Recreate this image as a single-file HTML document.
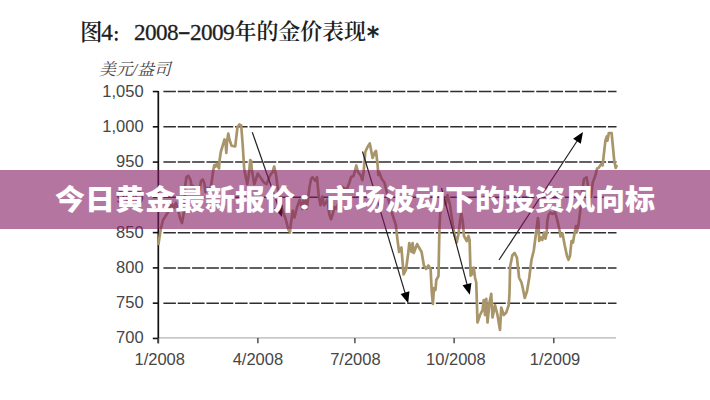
<!DOCTYPE html>
<html><head><meta charset="utf-8"><title>今日黄金最新报价</title>
<style>
html,body{margin:0;padding:0;background:#fff;}
body{width:710px;height:400px;overflow:hidden;position:relative;}
svg{position:absolute;left:0;top:0;}
.g{stroke:#2e2e2e;stroke-width:1.5;stroke-dasharray:12.5 1.84;fill:none;}
.t{stroke:#111;stroke-width:1.6;}
.xt{stroke:#444;stroke-width:1.4;}
.yl{font-family:"Liberation Sans",sans-serif;font-size:16.5px;fill:#464646;text-anchor:end;}
.xl{font-family:"Liberation Sans",sans-serif;font-size:16.5px;fill:#464646;text-anchor:middle;}
.ar{stroke:#222;stroke-width:1.2;}
.ah{fill:#000;}
.gold{stroke:#a8956a;stroke-width:2.7;fill:none;stroke-linejoin:round;stroke-linecap:round;}
.title span{position:absolute;top:0;white-space:nowrap;color:#1e1e1e;}
.title{position:absolute;left:0;top:0;width:710px;height:60px;}
.title .cj{font-family:"Noto Serif CJK SC",serif;font-size:21px;font-weight:600;line-height:62px;}
.title .lt{font-family:"Liberation Serif",serif;font-size:23.2px;line-height:62px;top:0.8px;letter-spacing:-0.6px;-webkit-text-stroke:0.3px #1e1e1e;}
.title .col{font-family:"Noto Sans CJK SC",sans-serif;font-size:14px;line-height:62px;top:3.3px;font-weight:900;}
.title .hy{transform:scaleX(1.6);transform-origin:0 0;top:-0.2px;-webkit-text-stroke:0.5px #1e1e1e;}
.title .ast{font-family:"DejaVu Sans",sans-serif;font-size:20px;line-height:62px;top:3.8px;transform:scale(1.2,1.25);-webkit-text-stroke:0.6px #1e1e1e;transform-origin:0 50%;}
.unit{position:absolute;left:99px;top:58px;font-family:"Liberation Serif","Noto Serif CJK SC",serif;font-size:16.8px;line-height:24px;color:#444;font-style:italic;white-space:nowrap;}
.banner{position:absolute;left:0;top:170px;width:710px;height:59px;background:rgba(130,27,97,0.6);}
.banner .bc{display:inline-block;transform:translateX(2px) scaleY(0.72);transform-origin:50% 62%;}
.banner p{margin:0;position:absolute;left:0;right:0;top:2px;height:59px;line-height:59px;text-align:center;color:#fff;font-family:"Liberation Sans","Noto Sans CJK SC",sans-serif;font-weight:900;font-size:30px;white-space:nowrap;transform:scaleY(0.935);transform-origin:50% 14px;}
</style></head><body>
<div class="title"><span class="cj" style="left:80px;top:-1.5px;font-size:22.5px">图</span><span class="lt" style="left:101.2px">4</span><span class="col" style="left:112.8px">：</span><span class="lt" style="left:134px">2008</span><span class="lt hy" style="left:178.2px">-</span><span class="lt" style="left:190px">2009</span><span class="cj" style="left:234.5px;top:-1px;font-size:22px;letter-spacing:-0.1px">年的金价表现</span><span class="ast" style="left:367px">*</span></div>
<div class="unit">美元/盎司</div>
<svg width="710" height="400" viewBox="0 0 710 400">
<line x1="158.3" y1="337.9" x2="616" y2="337.9" stroke="#b4b4b4" stroke-width="1.3"/>
<line x1="163.4" y1="91.55" x2="616.5" y2="91.55" class="g"/><line x1="152.8" y1="91.55" x2="158.3" y2="91.55" class="t"/><line x1="163.4" y1="126.82" x2="616.5" y2="126.82" class="g"/><line x1="152.8" y1="126.82" x2="158.3" y2="126.82" class="t"/><line x1="163.4" y1="162.09" x2="616.5" y2="162.09" class="g"/><line x1="152.8" y1="162.09" x2="158.3" y2="162.09" class="t"/><line x1="163.4" y1="197.36" x2="616.5" y2="197.36" class="g"/><line x1="152.8" y1="197.36" x2="158.3" y2="197.36" class="t"/><line x1="163.4" y1="232.63" x2="616.5" y2="232.63" class="g"/><line x1="152.8" y1="232.63" x2="158.3" y2="232.63" class="t"/><line x1="163.4" y1="267.90" x2="616.5" y2="267.90" class="g"/><line x1="152.8" y1="267.90" x2="158.3" y2="267.90" class="t"/><line x1="163.4" y1="303.17" x2="616.5" y2="303.17" class="g"/><line x1="152.8" y1="303.17" x2="158.3" y2="303.17" class="t"/><line x1="152.8" y1="338.44" x2="158.3" y2="338.44" class="t"/>
<line x1="158.3" y1="91" x2="158.3" y2="343.3" stroke="#111" stroke-width="1.7"/>
<line x1="158.3" y1="337.9" x2="158.3" y2="343.3" class="xt"/><line x1="257.9" y1="337.9" x2="257.9" y2="343.3" class="xt"/><line x1="354.9" y1="337.9" x2="354.9" y2="343.3" class="xt"/><line x1="454.1" y1="337.9" x2="454.1" y2="343.3" class="xt"/><line x1="553.8" y1="337.9" x2="553.8" y2="343.3" class="xt"/>
<text x="143.6" y="97.30" class="yl">1,050</text><text x="143.6" y="132.37" class="yl">1,000</text><text x="143.6" y="167.44" class="yl">950</text><text x="143.6" y="202.51" class="yl">900</text><text x="143.6" y="237.58" class="yl">850</text><text x="143.6" y="272.65" class="yl">800</text><text x="143.6" y="307.72" class="yl">750</text><text x="143.6" y="342.79" class="yl">700</text>
<text x="159.7" y="365.1" class="xl">1/2008</text><text x="257.9" y="365.1" class="xl">4/2008</text><text x="355.4" y="365.1" class="xl">7/2008</text><text x="455.9" y="365.1" class="xl">10/2008</text><text x="555.0" y="365.1" class="xl">1/2009</text>
<path d="M158.5 244 L159.5 237 L161 228 L163 220 L165 217 L168 212 L170 207 L172 204 L174 208 L176 203 L178 210 L180 218 L182 223 L184 212 L185.3 185 L186.5 177 L188.5 176 L190.5 180 L191.8 188 L193 186 L195 189 L197.5 193 L199.5 190 L201 181 L202.7 179.5 L204.3 183 L205.5 192 L207.5 188 L209.5 190 L211 186 L212.2 178 L213.2 170.8 L214.3 165 L215.5 166.7 L216.7 163.8 L219 168.5 L219.6 160.3 L220.8 152 L222.6 146 L224.5 139.5 L225.5 141 L226.3 153 L227.2 140 L228.3 133.5 L229.3 139 L231.5 145.7 L235.2 146.5 L237.5 127 L239.3 124.5 L241.2 125.5 L242.7 145 L244.2 169 L245.5 175.5 L247.25 184.25 L249 173.75 L250.2 160 L251.2 161 L251.7 169 L254.25 184.25 L257.75 173.75 L260.4 177.25 L263.9 182.5 L266.5 184.25 L270 175.5 L272.6 172 L274.2 166.5 L276.1 175.5 L277 182.5 L279.5 200 L281 205 L283 212 L285.75 219.25 L288.4 229.75 L290 232 L291 222.75 L292.75 210.5 L294.5 217.5 L297.1 207 L299.75 200 L302.4 208.75 L304.1 196.5 L306.75 208.75 L309.4 187.75 L311.1 179 L312.6 177.25 L315.25 180.75 L317 177.25 L318.75 196.5 L320.5 205.25 L322.25 196.5 L324 205.25 L327.5 200 L329.25 214 L331 219.25 L332.75 214 L334.5 207 L336.25 208.75 L338.9 201.75 L340.6 186 L343.25 187.75 L346.75 189.5 L349.4 182.5 L351.1 177.25 L353.75 175.5 L356.3 165.5 L358 172 L360.75 175.5 L362.3 180 L363.6 172 L365.3 152 L367.5 147 L369.8 143.5 L372.6 158 L374.5 153 L376 150.8 L377.6 165 L378.3 175 L379.1 172 L381.75 179 L384.4 182.5 L387 193 L391 210 L395.8 225 L397.5 240 L399.1 252 L401.4 247.5 L403.6 274.5 L405.9 270 L408.1 254.3 L409.3 243 L411.5 252 L412.6 243 L413.8 253 L417.1 244.1 L421.6 252 L423.9 265.5 L426.1 268.9 L428.4 265.5 L430.6 268.9 L431.8 292.5 L432.9 303.8 L434 288 L435.5 290 L436.3 280 L438.5 276 L439 250 L439.5 226 L441 200 L443 196 L445.5 205 L447.5 195 L450 205 L452.8 225 L454.5 235 L456.75 242.5 L458.5 234 L459.9 222 L461.3 213 L462.8 222 L464 236 L466.75 241 L468.5 236 L469.6 240 L470.6 275.6 L472.5 273.75 L473.75 267.5 L475 277.5 L476.25 282.5 L477.5 322.5 L480 315 L482.5 310 L483.75 300 L485 315 L486.25 298.75 L487.5 322.5 L489.5 302.5 L491.25 293.75 L492.5 317.5 L495 305 L497.5 315 L500 330 L501.25 307.5 L503.75 315 L506.25 312.5 L508.75 305 L509.5 293.5 L510.1 266.5 L512.4 255.3 L514.6 253 L516.9 257.5 L519.1 277.75 L521.4 282.25 L522.5 286.75 L524.75 298 L527 291.25 L529.25 277.75 L531.5 259.75 L533.75 250.75 L536.6 228.75 L537.9 218 L538.5 222 L539.2 241 L541 237.5 L542.3 240 L544.1 232.5 L545.4 238.75 L546.6 233.75 L547.3 221 L548.5 215 L550.4 212.5 L552.5 214 L555 212 L557.25 220 L559.75 231.25 L560.5 236.5 L562.5 233.5 L564.75 245.5 L567 256 L568.5 259.75 L570 256 L571.5 241 L573 242.5 L574.5 233.5 L576 226 L577 231.5 L578.75 222.75 L580.5 208.75 L582.25 191.25 L584 179 L586.6 177.25 L589.25 193 L591 196.5 L592.75 182.5 L595.4 175.5 L597.1 168.5 L598.5 168 L601.3 164 L602.6 165.4 L605.4 140.6 L606.8 136.5 L607.5 140.6 L608.8 133 L611.6 133 L613 147.5 L614.3 161.3 L615.7 168 L616.5 166" class="gold"/>
<line x1="252.30" y1="132.30" x2="279.02" y2="208.51" class="ar"/><polygon points="282.00,217.00 274.02,208.14 282.70,205.10" class="ah"/><line x1="362.50" y1="151.50" x2="405.60" y2="294.58" class="ar"/><polygon points="408.20,303.20 400.62,293.99 409.43,291.34" class="ah"/><line x1="441.50" y1="188.00" x2="467.49" y2="286.10" class="ar"/><polygon points="469.80,294.80 462.54,285.35 471.43,282.99" class="ah"/><line x1="499.00" y1="260.00" x2="578.06" y2="139.52" class="ar"/><polygon points="583.00,132.00 580.81,143.72 573.12,138.67" class="ah"/>
</svg>
<div class="banner"><p>今日黄金最新报价<span class="bc">：</span>市场波动下的投资风向标</p></div>
</body></html>
